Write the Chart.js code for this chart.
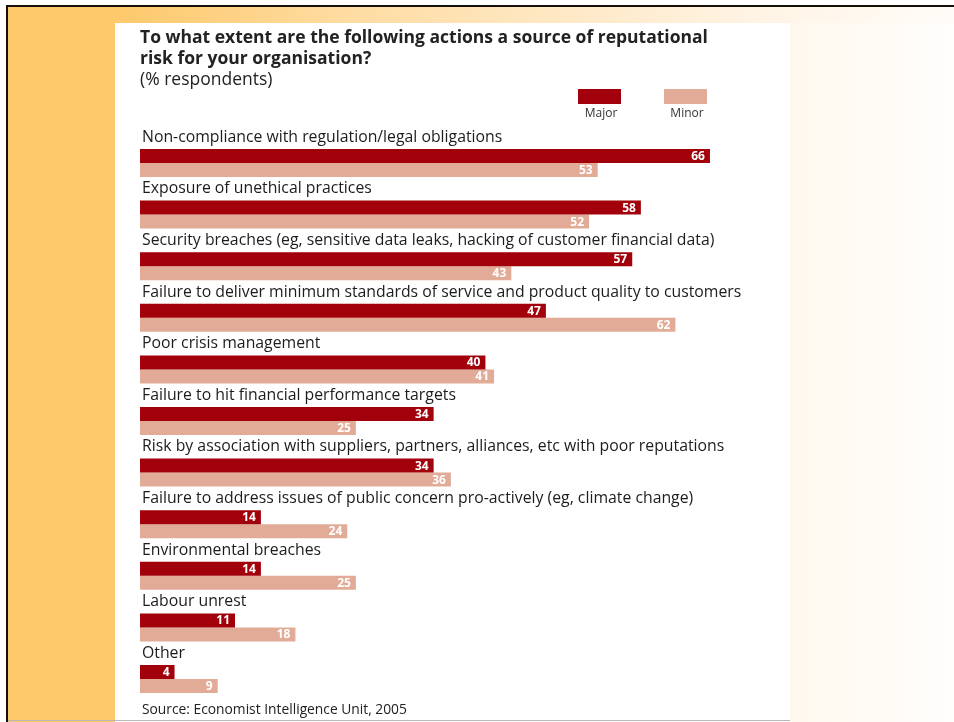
<!DOCTYPE html>
<html>
<head>
<meta charset="utf-8">
<script src="https://cdn.jsdelivr.net/npm/chart.js@4.4.1/dist/chart.umd.min.js"></script>
<style>
  html, body { margin:0; padding:0; background:#fff; width:954px; height:722px; overflow:hidden; }
  .deco { position:absolute; }
  .line-top  { left:6px; top:5px; width:948px; height:2px; background:#141008; }
  .line-left { left:6px; top:5px; width:2px; height:717px; background:#141008; }
  .orange    { left:8px; top:7px; width:107px; height:715px; background:#fdc96b; }
  .band-top  { left:8px; top:7px; width:946px; height:16px;
               background:linear-gradient(to right, #fdc96b 0, #fdc96b 110px, #fedba0 35%, #fff3e3 78%, #fffcf8 100%); }
  .right     { left:790px; top:23px; width:164px; height:699px;
               background:linear-gradient(to right, #fff8ee, #fffefc); }
  .panel     { left:115px; top:23px; width:675px; height:699px; background:#fff; }
  .line-bot  { left:8px; top:720px; width:782px; height:1px; background:#b8b8b8; }
  #chart { position:absolute; left:0; top:0; }
</style>
</head>
<body>
<div class="deco band-top"></div>
<div class="deco right"></div>
<div class="deco orange"></div>
<div class="deco panel"></div>
<div class="deco line-bot"></div>
<div class="deco line-top"></div>
<div class="deco line-left"></div>
<canvas id="chart" width="954" height="722"></canvas>

<script>
// ── Data ──────────────────────────────────────────────────────────
const categories = [
  'Non-compliance with regulation/legal obligations',
  'Exposure of unethical practices',
  'Security breaches (eg, sensitive data leaks, hacking of customer financial data)',
  'Failure to deliver minimum standards of service and product quality to customers',
  'Poor crisis management',
  'Failure to hit financial performance targets',
  'Risk by association with suppliers, partners, alliances, etc with poor reputations',
  'Failure to address issues of public concern pro-actively (eg, climate change)',
  'Environmental breaches',
  'Labour unrest',
  'Other',
];
const majorValues = [66, 58, 57, 47, 40, 34, 34, 14, 14, 11, 4];
const minorValues = [53, 52, 43, 62, 41, 25, 36, 24, 25, 18, 9];
const seriesNames = ['Major', 'Minor'];
const seriesColors = ['#a2000a', '#e2ab98'];

const titleLines = [
  'To what extent are the following actions a source of reputational',
  'risk for your organisation?',
];
const subtitleText = '(% respondents)';
const sourceText = 'Source: Economist Intelligence Unit, 2005';

const FONT = "'Open Sans', 'Liberation Sans', sans-serif";

// category labels above each group + white value labels + legend + source
const annotatePlugin = {
  id: 'annotate',
  afterDatasetsDraw(chart) {
    const { ctx, chartArea } = chart;
    const yScale = chart.scales.y;
    const band = yScale.getPixelForValue(1) - yScale.getPixelForValue(0);

    ctx.save();
    ctx.textBaseline = 'middle';

    // category labels
    ctx.fillStyle = '#1c1c1c';
    ctx.font = `15.8px ${FONT}`;
    ctx.textAlign = 'left';
    categories.forEach((c, i) => {
      ctx.fillText(c, chartArea.left + 2, yScale.getPixelForValue(i) - band / 2);
    });

    // value labels inside bar ends
    ctx.fillStyle = '#fff';
    ctx.font = `bold 12px ${FONT}`;
    ctx.textAlign = 'right';
    chart.data.datasets.forEach((ds, di) => {
      chart.getDatasetMeta(di).data.forEach((bar, i) => {
        ctx.fillText(String(ds.data[i]), bar.x - 5, bar.y + 0.5);
      });
    });

    // legend: box with label underneath
    const legendX = [578, 664];
    ctx.font = `12px ${FONT}`;
    ctx.textAlign = 'center';
    seriesNames.forEach((n, i) => {
      ctx.fillStyle = seriesColors[i];
      ctx.fillRect(legendX[i], 89, 43, 15);
      ctx.fillStyle = '#333';
      ctx.fillText(n, legendX[i] + 23, 114);
    });

    // source
    ctx.fillStyle = '#222';
    ctx.font = `13.8px ${FONT}`;
    ctx.textAlign = 'left';
    ctx.fillText(sourceText, chartArea.left + 2, 710);
    ctx.restore();
  },
};

new Chart(document.getElementById('chart'), {
  type: 'bar',
  data: {
    labels: categories,
    datasets: [
      { label: seriesNames[0], data: majorValues, backgroundColor: seriesColors[0] },
      { label: seriesNames[1], data: minorValues, backgroundColor: seriesColors[1] },
    ],
  },
  options: {
    indexAxis: 'y',
    responsive: false,
    animation: false,
    events: [],
    categoryPercentage: 0.543,
    barPercentage: 1.0,
    layout: { padding: { left: 140, right: 209.5, top: 0, bottom: 17.2 } },
    scales: {
      x: { display: false, min: 0, max: 70 },
      y: { display: false },
    },
    plugins: {
      legend: { display: false },
      tooltip: { enabled: false },
      title: {
        display: true, text: titleLines, align: 'start', color: '#222',
        font: { family: FONT, size: 17.5, weight: 'bold', lineHeight: 1.2 },
        padding: { top: 27.5, bottom: 0 },
      },
      subtitle: {
        display: true, text: subtitleText, align: 'start', color: '#222',
        font: { family: FONT, size: 17.5, lineHeight: 1.2 },
        padding: { top: 0, bottom: 46.7 },
      },
    },
  },
  plugins: [annotatePlugin],
});
</script>
</body>
</html>
